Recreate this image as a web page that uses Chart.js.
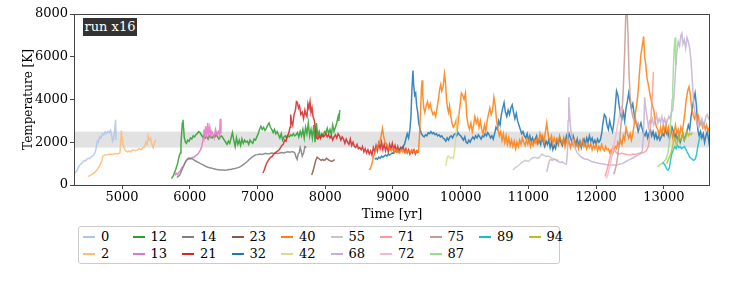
<!DOCTYPE html>
<html>
<head>
<meta charset="utf-8">
<script src="https://cdn.jsdelivr.net/npm/chart.js@4.4.1/dist/chart.umd.min.js"></script>
<style>
  body { margin: 0; background: #fff; font-family: 'DejaVu Serif', serif; }
  #wrap { position: relative; width: 747px; height: 285px; }
  #box { position: absolute; left: 0; top: 0; width: 747px; height: 222px; }
  #tag { position: absolute; left: 83px; top: 18px; width: 54px; height: 18px; background: #333; color: #fff;
         font-size: 13px; line-height: 18px; text-align: center; }
  #legend { position: absolute; left: 78px; top: 226px; width: 482px; height: 38px; border: 1px solid #ccc;
            border-radius: 3px; display: grid; grid-template-columns: repeat(10, 49.5px);
            grid-template-rows: 17px 17px; padding: 1px 0 0 4px; box-sizing: border-box; font-size: 13px; }
  .item { display: flex; align-items: center; }
  .item i { display: inline-block; width: 12px; height: 2px; margin-right: 6px; }
</style>
</head>
<body>
<div id="wrap">
  <div id="box"><canvas id="tempChart"></canvas></div>
  <div id="tag">run x16</div>
  <div id="legend"></div>
</div>
<script>
// each run: [time in yr, temperature in K]
const run0 = [[4300,560],[4320,620],[4340,700],[4360,850],[4380,950],[4400,1000],[4420,1080],[4440,1150],[4460,1120],[4480,1200],[4500,1250],[4520,1230],[4540,1300],[4560,1350],[4580,1400],[4600,1500],[4620,1750],[4635,2050],[4650,2000],[4670,2250],[4690,2200],[4710,2400],[4730,2350],[4750,2480],[4770,2400],[4790,2500],[4810,2450],[4830,2550],[4845,2350],[4860,2050],[4875,2150],[4890,2500],[4905,3050],[4912,2100]];
const run2 = [[4500,390],[4530,450],[4560,500],[4600,600],[4640,750],[4670,900],[4700,1100],[4715,1350],[4740,1400],[4780,1420],[4820,1450],[4860,1430],[4900,1470],[4940,1450],[4970,1500],[4980,2000],[4990,2550],[5000,2200],[5010,1900],[5030,1750],[5050,1600],[5080,1550],[5100,1600],[5130,1550],[5160,1650],[5190,1600],[5220,1620],[5250,1700],[5280,1650],[5310,1750],[5330,1750],[5350,2000],[5370,1900],[5385,2300],[5400,2100],[5420,2200],[5440,1900],[5460,1750],[5480,2000],[5500,2100]];
const run12 = [[5730,300],[5760,450],[5790,700],[5820,1000],[5840,1300],[5860,1500],[5870,1900],[5880,2400],[5890,2900],[5900,3050],[5910,2600],[5920,2200],[5935,2000],[5950,1950],[5970,2100],[5990,2050],[6010,2200],[6030,2150],[6050,2300],[6070,2250],[6090,2350],[6110,2400],[6130,2500],[6150,2450],[6170,2350],[6190,2250],[6210,2300],[6230,2200],[6250,2250],[6270,2150],[6290,2300],[6310,2250],[6330,2200],[6350,2300],[6370,2250],[6390,2350],[6410,2250],[6430,2150],[6450,2250],[6470,2300],[6490,2200],[6510,2100],[6530,2000],[6550,1900],[6570,2050],[6590,1950],[6610,2200],[6630,2450],[6650,2100],[6670,1800],[6690,2200],[6710,1900],[6730,2100],[6750,1850],[6770,2150],[6790,1950],[6810,2100],[6830,2000],[6850,2050],[6870,1900],[6890,2100],[6910,2000],[6930,1950],[6950,2150],[6970,2100],[6990,2250],[7010,2400],[7030,2600],[7050,2750],[7070,2600],[7090,2700],[7110,2550],[7130,2650],[7150,2800],[7170,2900],[7190,2700],[7210,2600],[7230,2450],[7250,2600],[7270,2400],[7290,2500],[7310,2350],[7330,2200],[7350,2400],[7370,2100],[7390,2250],[7410,2300],[7430,2200],[7450,2300],[7470,2250],[7490,2350],[7510,2300],[7530,2400],[7550,2300],[7570,2350],[7590,2450],[7610,2250],[7630,2500],[7650,2300],[7670,2600],[7690,2200],[7710,2700],[7730,2400],[7750,2900],[7770,2300],[7790,2600],[7810,2200],[7830,2800],[7850,2000],[7870,2900],[7890,2300],[7910,2500],[7930,2200],[7950,2400],[7970,2300],[7990,2500],[8010,2450],[8030,2650],[8050,2400],[8070,2600],[8090,2350],[8110,2800],[8130,2500],[8150,2700],[8170,2900],[8190,3200],[8200,3000],[8215,3500]];
const run13 = [[5780,450],[5800,550],[5820,480],[5840,600],[5860,650],[5880,800],[5900,850],[5920,950],[5940,1100],[5960,1200],[5980,1250],[6000,1200],[6020,1250],[6040,1300],[6060,1280],[6080,1350],[6100,1400],[6120,1450],[6140,1550],[6160,1650],[6180,1850],[6200,2200],[6210,2600],[6220,2300],[6235,2750],[6250,2200],[6265,2900],[6280,2400],[6295,2700],[6310,2300],[6325,2500],[6340,2400],[6360,2200],[6380,2600],[6400,2350],[6420,2500],[6440,2300],[6450,3100],[6460,2400]];
const run14 = [[5810,350],[5830,400],[5850,450],[5870,600],[5890,750],[5910,900],[5930,1050],[5950,1150],[5970,1200],[5990,1250],[6010,1250],[6030,1230],[6050,1200],[6070,1150],[6100,1100],[6130,1050],[6160,1000],[6190,950],[6220,900],[6250,850],[6280,820],[6310,800],[6340,770],[6370,750],[6400,720],[6430,710],[6460,700],[6490,700],[6520,690],[6550,700],[6580,720],[6610,730],[6640,760],[6670,770],[6700,800],[6730,830],[6760,880],[6790,950],[6820,1020],[6850,1100],[6880,1200],[6910,1280],[6940,1350],[6970,1400],[7000,1420],[7030,1450],[7060,1430],[7090,1450],[7120,1480],[7150,1450],[7180,1470],[7210,1500],[7240,1480],[7270,1500],[7300,1480],[7330,1500],[7360,1520],[7390,1500],[7420,1530],[7450,1550],[7480,1530],[7510,1560],[7530,1550],[7550,1500],[7570,1300],[7585,1200],[7600,1450],[7615,1500],[7630,1750],[7645,1600],[7660,1350],[7680,1500],[7700,1800],[7720,1750]];
const run21 = [[7080,560],[7100,700],[7120,900],[7140,1050],[7160,1150],[7180,1250],[7200,1300],[7220,1350],[7240,1450],[7260,1500],[7280,1550],[7300,1600],[7320,1650],[7340,1750],[7360,1850],[7380,1900],[7400,2100],[7420,2050],[7440,2300],[7460,2400],[7480,2700],[7490,3300],[7500,3000],[7520,2800],[7540,3300],[7560,3500],[7575,3900],[7590,3850],[7605,3600],[7620,3700],[7640,3300],[7660,3400],[7680,3100],[7700,3500],[7715,3300],[7730,3200],[7745,3800],[7760,3600],[7775,3900],[7790,3400],[7805,3600],[7820,3200],[7840,3000],[7855,2600],[7870,2200],[7890,2150],[7910,2300],[7930,2200],[7950,2350],[7970,2250],[7990,2300],[8010,2400],[8030,2250],[8050,2350],[8070,2200],[8090,2300],[8110,2100],[8130,2250],[8150,2350],[8170,2200],[8190,2400],[8210,2300],[8230,2100],[8250,2250],[8270,2150],[8290,1950],[8310,2150],[8330,2000],[8350,1900],[8370,2150],[8390,1850],[8410,2000],[8430,1800],[8450,1750],[8470,1900],[8490,1700],[8510,1750],[8530,1650],[8550,1800],[8570,1550],[8590,1700],[8610,1500],[8630,1650],[8650,1450],[8670,1600],[8690,1400],[8710,1750],[8730,1550],[8750,1850],[8770,1600],[8790,1950],[8810,1700],[8830,2000],[8850,1650],[8870,1900],[8890,1600],[8910,1850],[8930,1550],[8950,1900],[8970,1700],[8990,1950],[9010,1650],[9030,1850],[9050,1600],[9070,1800],[9090,1550],[9110,1750],[9130,1650],[9150,1800],[9170,1550],[9190,1700],[9210,1500],[9230,1650],[9250,1450],[9270,1600],[9290,1500],[9310,1650],[9330,1450],[9350,1600],[9370,1500]];
const run23 = [[7800,470],[7820,650],[7840,900],[7860,1150],[7880,1300],[7900,1250],[7920,1200],[7940,1150],[7960,1200],[7980,1150],[8000,1180],[8020,1250],[8040,1200],[8060,1150],[8080,1120],[8100,1100],[8120,1150],[8140,1180]];
const run32 = [[8730,1200],[8750,1250],[8770,1200],[8790,1300],[8810,1250],[8830,1350],[8850,1300],[8870,1350],[8890,1400],[8910,1350],[8930,1450],[8950,1400],[8970,1450],[8990,1500],[9010,1480],[9030,1550],[9050,1600],[9070,1550],[9090,1650],[9110,1700],[9130,1750],[9150,1800],[9170,1900],[9190,2150],[9210,2400],[9230,2200],[9250,2600],[9265,3200],[9280,4500],[9295,5350],[9305,4700],[9320,4200],[9335,4300],[9350,3700],[9365,3400],[9380,2900],[9400,2600],[9420,2400],[9440,2300],[9460,2250],[9480,2350],[9500,2300],[9520,2450],[9540,2400],[9560,2500],[9580,2400],[9600,2450],[9620,2350],[9640,2400],[9660,2300],[9680,2350],[9700,2250],[9720,2300],[9740,2200],[9760,2150],[9780,2050],[9800,2200],[9820,2100],[9840,2250],[9860,2300],[9880,2200],[9900,2350],[9920,2400],[9940,2300],[9960,2450],[9980,2350],[10000,2300],[10020,2200],[10040,2100],[10060,2250],[10080,2000],[10100,1950],[10120,2100],[10140,2000],[10160,2150],[10180,2250],[10200,2150],[10220,2300],[10240,2200],[10260,2350],[10280,2250],[10300,2150],[10320,2300],[10340,2250],[10360,2400],[10380,2300],[10400,2450],[10420,2350],[10440,2200],[10460,2300],[10480,2150],[10500,2400],[10520,2700],[10540,2600],[10560,3000],[10580,2800],[10600,3300],[10620,3600],[10640,3850],[10660,3400],[10680,3200],[10700,3500],[10720,3300],[10740,3600],[10760,3750],[10780,3400],[10800,3100],[10820,3350],[10840,3000],[10860,2800],[10880,2600],[10900,2400],[10920,2500],[10940,2300],[10960,2200],[10980,2400],[11000,2100],[11020,2300],[11040,2050],[11060,2200],[11080,2000],[11100,2150],[11120,2300],[11140,1950],[11160,2100],[11180,1900],[11200,2250],[11220,2000],[11240,1800],[11260,2050],[11280,1900],[11300,2100],[11320,1750],[11340,2000],[11360,1650],[11380,1850],[11400,1700],[11420,2100],[11440,1900],[11460,2200],[11480,2000],[11500,1850],[11520,2150],[11540,1950],[11560,2300],[11580,2100],[11600,2400],[11620,2200],[11640,2050],[11660,2300],[11680,2100],[11700,1900],[11720,2150],[11740,1850],[11760,2050],[11780,1750],[11800,2000],[11820,2150],[11840,1900],[11860,2200],[11880,2000],[11900,2300],[11920,2050],[11940,2200],[11960,1950],[11980,2100],[12000,1900],[12020,2150],[12040,2000],[12060,2100],[12080,2400],[12100,2900],[12120,3300],[12140,3200],[12160,2800],[12180,2600],[12200,3000],[12220,2700],[12240,2500],[12260,2900],[12280,3600],[12300,4400],[12320,4200],[12340,3700],[12360,3300],[12380,3100],[12400,3400],[12420,3000],[12440,3600],[12460,3900],[12480,4300],[12500,3900],[12520,3600],[12540,3800],[12560,3300],[12580,3000],[12600,2800],[12620,2500],[12640,2700],[12660,2900],[12680,2600],[12700,2400],[12720,2300],[12740,2500],[12760,2200],[12780,2400],[12800,2600],[12820,2300],[12840,2500],[12860,2200],[12880,2400],[12900,2150],[12920,2300],[12940,2100],[12960,2250],[12980,2400],[13000,2300],[13020,2600],[13040,2400],[13060,2500],[13080,2200],[13100,2400],[13120,2700],[13140,2500],[13160,2200],[13180,2400],[13200,2100],[13220,2300],[13240,2000],[13260,2200],[13280,2400],[13300,2100],[13320,2300],[13340,2500],[13360,2800],[13380,2600],[13400,3200],[13420,3600],[13440,4000],[13460,4300],[13480,3700],[13500,2600],[13520,2300],[13540,2500],[13560,2200],[13580,2400],[13600,2000],[13620,2300],[13640,2500],[13660,2100],[13680,1700]];
const run40 = [[8650,700],[8670,800],[8690,1000],[8710,1300],[8730,1500],[8750,1650],[8770,1800],[8790,1950],[8810,2050],[8830,2400],[8845,2650],[8860,2300],[8880,2050],[8900,1900],[8920,1800],[8940,1700],[8960,1650],[8980,1600],[9000,1700],[9020,1550],[9040,1650],[9060,1550],[9080,1600],[9100,1500],[9120,1650],[9140,1550],[9160,1600],[9180,1500],[9200,1650],[9220,1550],[9240,1600],[9260,1500],[9280,1650],[9300,1550],[9320,1600],[9340,1500],[9360,1600],[9375,1550],[9390,2200],[9405,3300],[9420,4500],[9430,4900],[9440,4200],[9455,3600],[9470,3400],[9490,3700],[9510,3900],[9530,3600],[9550,3800],[9570,3500],[9590,3300],[9610,3400],[9630,3200],[9650,3600],[9670,4000],[9690,4500],[9705,4700],[9720,4400],[9740,4600],[9760,5200],[9775,4800],[9790,4000],[9805,3600],[9820,3400],[9835,3700],[9850,3300],[9870,2900],[9890,2700],[9910,2800],[9930,3000],[9950,2600],[9970,3200],[9990,3700],[10010,4300],[10030,4200],[10050,4000],[10070,4300],[10090,3200],[10110,2800],[10130,2600],[10150,2900],[10170,2500],[10190,2800],[10210,3200],[10230,2900],[10250,3100],[10270,2700],[10290,3000],[10310,2600],[10330,2400],[10350,2800],[10370,2500],[10390,3000],[10410,3300],[10430,3600],[10450,3300],[10470,3500],[10490,4100],[10510,3700],[10530,3000],[10550,2600],[10570,2300],[10590,2500],[10610,2100],[10630,2400],[10650,2000],[10670,2300],[10690,1900],[10710,2200],[10730,1850],[10750,2100],[10770,1800],[10790,2050],[10810,1700],[10830,2000],[10850,1800],[10870,2100],[10890,1900],[10910,2200],[10930,2000],[10950,1850],[10970,2100],[10990,1900],[11010,2150],[11030,1800],[11050,2000],[11070,1850],[11090,2100],[11110,1950],[11130,2200],[11150,2000],[11170,2400],[11190,2100],[11210,2300],[11230,2000],[11250,2500],[11270,2900],[11285,2500],[11300,2200],[11320,2100],[11340,2300],[11360,1950],[11380,2200],[11400,2000],[11420,2150],[11440,1900],[11460,2300],[11480,2100],[11500,1950],[11520,2200],[11540,1800],[11560,2100],[11580,1900],[11600,2050],[11620,1750],[11640,2000],[11660,1850],[11680,2100],[11700,1800],[11720,1950],[11740,1700],[11760,2000],[11780,1850],[11800,2100],[11820,1800],[11840,1950],[11860,1700],[11880,1900],[11900,1750],[11920,1950],[11940,1650],[11960,1850],[11980,1700],[12000,1900],[12020,1600],[12040,1800],[12060,1650],[12080,1900],[12100,1700],[12120,1600],[12140,1800],[12160,1650],[12180,1700],[12200,1500],[12220,1650],[12240,1450],[12260,1600],[12280,1800],[12300,1700],[12320,2000],[12340,1850],[12360,2100],[12380,1900],[12400,2300],[12420,2100],[12440,2700],[12460,2400],[12480,2200],[12500,2400],[12520,2100],[12540,2400],[12560,2800],[12580,3400],[12600,3800],[12620,4400],[12640,5300],[12660,6100],[12680,6500],[12700,6950],[12715,6000],[12730,5700],[12750,5000],[12770,4700],[12790,4300],[12810,4000],[12830,3700],[12850,3500],[12870,3000],[12890,2700],[12910,2600],[12930,2300],[12950,2700],[12970,2400],[12990,2800],[13010,2500],[13030,2900],[13050,2400],[13070,2700],[13090,2300],[13110,2600],[13130,2200],[13150,2500],[13170,2800],[13190,2400],[13210,2600],[13230,2300],[13250,2700],[13270,2500],[13290,2900],[13310,3400],[13330,4000],[13350,4400],[13370,4600],[13390,4200],[13410,3600],[13430,3300],[13450,3100],[13470,3300],[13490,2900],[13510,3200],[13530,2800],[13550,3000],[13570,2700],[13590,2900],[13610,2600],[13630,2800],[13650,2500],[13670,2700]];
const run42 = [[9780,900],[9790,1050],[9800,1300],[9815,1350],[9830,1300],[9850,1250],[9870,1300],[9890,1250],[9905,1500],[9920,2000],[9935,2600],[9950,3200],[9965,3300]];
const run55 = [[10770,700],[10800,800],[10850,900],[10900,1050],[10950,1150],[11000,1100],[11050,1250],[11100,1300],[11150,1250],[11200,1450],[11250,1350],[11300,1350],[11350,1250],[11400,1200],[11450,1150]];
const run68 = [[11270,600],[11290,900],[11310,1150],[11330,1200],[11350,1150],[11380,1200],[11410,1150],[11440,1100],[11470,1050],[11500,1080],[11530,1000],[11560,980],[11575,1500],[11585,3000],[11595,4100],[11605,3500],[11620,2700],[11640,2300],[11660,2000],[11680,1800],[11700,1650],[11720,1500],[11750,1400],[11780,1300],[11810,1250],[11840,1200],[11870,1200],[11900,1150],[11930,1100],[11960,1080],[11990,1050],[12020,1040],[12050,1000],[12080,990],[12110,980],[12140,960],[12170,950],[12200,940],[12230,930],[12260,930],[12290,940],[12320,950],[12350,980],[12380,1000],[12410,1050],[12440,1100],[12470,1150],[12500,1200],[12530,1250],[12560,1300],[12590,1350],[12620,1400],[12650,1450],[12680,1600],[12700,2400],[12715,4100],[12730,3600],[12750,3200],[12770,2700],[12790,3000],[12810,2900],[12830,3100],[12850,2800],[12870,3000],[12890,3300],[12910,2900],[12930,3100],[12950,2900],[12970,3200],[12990,2900],[13010,3100],[13030,2800],[13050,3000],[13070,3200],[13090,3100],[13110,3400],[13130,3500],[13150,4200],[13170,5300],[13190,6200],[13210,6700],[13230,6500],[13250,7000],[13265,7100],[13280,6600],[13300,6800],[13320,6400],[13340,6900],[13360,6700],[13380,6400],[13400,5800],[13420,4800],[13440,3800],[13460,3300],[13480,3100],[13500,2800],[13520,3000],[13540,2900],[13560,3100],[13580,2700],[13600,2900],[13620,3200],[13640,3300],[13660,3100],[13680,3200]];
const run71 = [[12130,400],[12160,700],[12190,1100],[12220,1500],[12250,1800],[12270,1650],[12300,1500],[12340,1450],[12380,1480],[12420,1450],[12460,1420],[12500,1400],[12540,1450],[12580,1430],[12620,1480],[12660,1500],[12700,1520],[12740,1600],[12770,1800],[12790,2300],[12810,3200],[12830,4300],[12845,5300]];
const run72 = [[12150,300],[12180,600],[12210,1000],[12240,1500],[12270,2000],[12300,2500],[12320,2900],[12340,3200],[12360,3500],[12375,3700]];
const run75 = [[12260,500],[12280,700],[12300,1000],[12320,1400],[12340,1900],[12360,2600],[12380,3300],[12400,4500],[12420,6200],[12435,7800],[12445,8300],[12455,8200],[12470,7000],[12485,5200],[12500,4200],[12520,3500],[12540,3200],[12560,3000],[12580,3100],[12600,2800],[12620,2900],[12640,2600]];
const run87 = [[12910,840],[12940,950],[12970,1000],[13000,1100],[13030,1200],[13060,1500],[13080,2000],[13095,2800],[13110,3300],[13120,4000],[13130,4600],[13140,5500],[13150,6300],[13165,6900],[13175,5600]];
const run89 = [[12980,1050],[13000,1000],[13020,900],[13040,750],[13060,700],[13080,800],[13100,1200],[13120,1500],[13140,1650],[13160,1800],[13180,1700],[13200,1850],[13220,1750],[13240,1800],[13260,1700],[13280,1750],[13300,1800],[13320,1700],[13340,1550],[13360,1450],[13380,1300],[13400,1250],[13420,1200],[13440,1150],[13460,1200],[13480,1400],[13500,1800],[13520,2100],[13540,2300]];
const run94 = [[13040,1000],[13060,1150],[13080,1300],[13100,1450],[13120,1700],[13140,2000],[13160,2200],[13180,1900],[13200,2000],[13220,2300],[13240,2100],[13260,2200],[13280,2400],[13300,2100],[13320,2200],[13340,2500],[13360,2300],[13380,2400],[13400,2350],[13420,2450]];

const runIds = [0, 2, 12, 13, 14, 21, 23, 32, 40, 42, 55, 68, 71, 72, 75, 87, 89, 94];
const runData = [run0, run2, run12, run13, run14, run21, run23, run32, run40, run42, run55, run68, run71, run72, run75, run87, run89, run94];
const runColors = ['#aec7e8', '#ffbb78', '#2ca02c', '#e377c2', '#7f7f7f', '#d62728', '#8c564b', '#1f77b4', '#ff7f0e',
                   '#dbdb8d', '#c7c7c7', '#c5b0d5', '#ff9896', '#f7b6d2', '#c49c94', '#98df8a', '#17becf', '#bcbd22'];

const xTicks = [5000, 6000, 7000, 8000, 9000, 10000, 11000, 12000, 13000];
const yTicks = [0, 2000, 4000, 6000, 8000];
const band = [1750, 2500]; // shaded range in K

const serif = "'DejaVu Serif', serif";

// shaded band + full frame round the plot
const framePlugin = {
    id: 'frame',
    beforeDatasetsDraw(chart) {
        const { ctx, chartArea: a, scales: { y } } = chart;
        const top = y.getPixelForValue(band[1]);
        const bottom = y.getPixelForValue(band[0]);
        ctx.save();
        ctx.fillStyle = '#e2e2e2';
        ctx.fillRect(a.left, top, a.right - a.left, bottom - top);
        ctx.restore();
    },
    afterDraw(chart) {
        const { ctx, chartArea: a } = chart;
        ctx.save();
        ctx.strokeStyle = '#444';
        ctx.lineWidth = 1;
        ctx.strokeRect(a.left + 0.5, a.top + 0.5, a.right - a.left - 1, a.bottom - a.top);
        ctx.restore();
    }
};

const datasets = runData.map((pts, i) => ({
    label: String(runIds[i]),
    data: pts.map(p => ({ x: p[0], y: p[1] })),
    borderColor: runColors[i] + 'dd',
    borderWidth: 1.5,
    pointRadius: 0,
    tension: 0,
    order: runIds.length - i, // later runs on top
}));

new Chart(document.getElementById('tempChart'), {
    type: 'line',
    data: { datasets: datasets },
    plugins: [framePlugin],
    options: {
        responsive: true,
        maintainAspectRatio: false,
        animation: false,
        layout: { padding: { top: 14, right: 37, left: 0, bottom: 0 } },
        plugins: { legend: { display: false }, tooltip: { enabled: false } },
        scales: {
            x: {
                type: 'linear',
                min: 4291,
                max: 13680,
                afterBuildTicks: s => { s.ticks = xTicks.map(v => ({ value: v })); },
                afterFit: s => { s.height = 37; },
                grid: { drawOnChartArea: false, tickLength: 4, color: '#444' },
                border: { display: false },
                ticks: { color: '#000', font: { family: serif, size: 13 }, padding: 1, maxRotation: 0, callback: v => String(v) },
                title: { display: true, text: 'Time [yr]', color: '#000', font: { family: serif, size: 13 }, padding: 0 }
            },
            y: {
                min: 0,
                max: 8000,
                afterBuildTicks: s => { s.ticks = yTicks.map(v => ({ value: v })); },
                afterFit: s => { s.width = 74; },
                grid: { drawOnChartArea: false, tickLength: 4, color: '#444' },
                border: { display: false },
                ticks: { color: '#000', font: { family: serif, size: 13 }, padding: 2, callback: v => String(v) },
                title: { display: true, text: 'Temperature [K]', color: '#000', font: { family: serif, size: 12 }, padding: { top: 22, bottom: 0 } }
            }
        }
    }
});

// legend laid out like matplotlib's ncol=10: column by column, first 8 columns hold 2 rows
const legend = document.getElementById('legend');
runIds.forEach((id, i) => {
    const col = i < 16 ? Math.floor(i / 2) : i - 8;
    const row = i < 16 ? i % 2 : 0;
    const item = document.createElement('div');
    item.className = 'item';
    item.style.gridColumn = String(col + 1);
    item.style.gridRow = String(row + 1);
    item.innerHTML = '<i style="background:' + runColors[i] + '"></i>' + id;
    legend.appendChild(item);
});
</script>
</body>
</html>
